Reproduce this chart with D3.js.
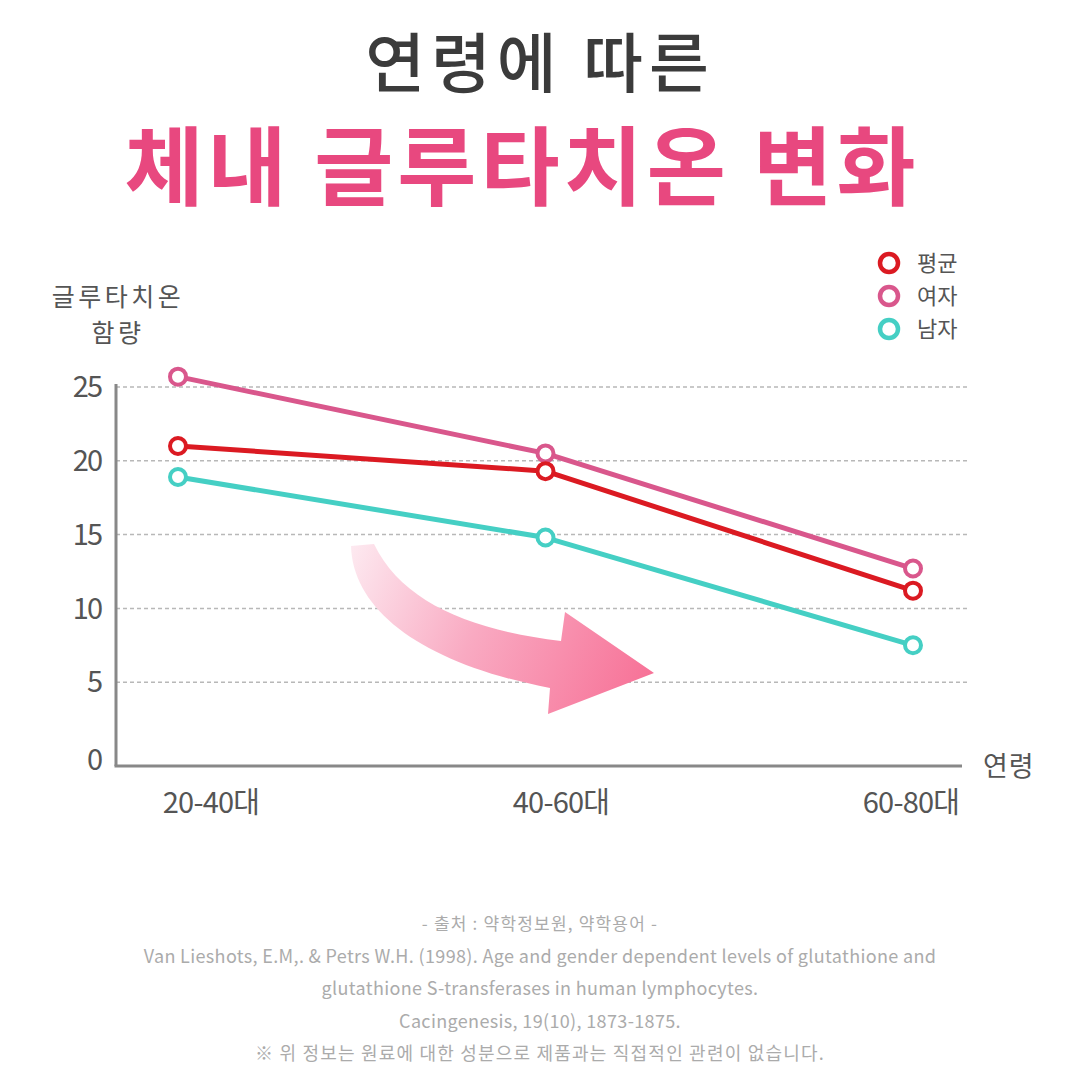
<!DOCTYPE html>
<html><head><meta charset="utf-8">
<script src="https://cdn.jsdelivr.net/npm/d3@7"></script>
<style>
html,body{margin:0;padding:0;background:#fff;}
svg{display:block;font-family:"Noto Sans CJK KR","Noto Sans",sans-serif;}
</style></head>
<body>
<svg id="chart" width="1080" height="1080"></svg>
<script>
// ---- data ----
const categories = ["20-40대", "40-60대", "60-80대"];
const seriesNames = ["평균", "여자", "남자"];
const avgValues = [21.0, 19.3, 11.2];
const femaleValues = [25.7, 20.5, 12.7];
const maleValues = [18.9, 14.8, 7.5];
const yTicks = [0, 5, 10, 15, 20, 25];
const seriesColors = ["#db1a22", "#d9578c", "#45cfc4"];

const titleLine1 = "연령에 따른";
const titleLine2 = "체내 글루타치온 변화";
const yTitle = ["글루타치온", "함량"];
const xTitle = "연령";
const footer = [
  "- 출처 : 약학정보원, 약학용어 -",
  "Van Lieshots, E.M,. & Petrs W.H. (1998). Age and gender dependent levels of glutathione and",
  "glutathione S-transferases in human lymphocytes.",
  "Cacingenesis, 19(10), 1873-1875.",
  "※ 위 정보는 원료에 대한 성분으로 제품과는 직접적인 관련이 없습니다."
];

const series = [
  {name: seriesNames[1], values: femaleValues, color: seriesColors[1]},
  {name: seriesNames[0], values: avgValues, color: seriesColors[0]},
  {name: seriesNames[2], values: maleValues, color: seriesColors[2]}
];

const svg = d3.select("#chart");

// ---- titles ----
svg.append("text").attr("x", 540).attr("y", 87).attr("text-anchor", "middle")
  .attr("font-size", 65).attr("font-weight", 500).attr("fill", "#3b3b3b")
  .attr("letter-spacing", 6).text(titleLine1);
svg.append("text").attr("x", 522).attr("y", 199).attr("text-anchor", "middle")
  .attr("font-size", 86).attr("font-weight", 700).attr("fill", "#e8487f")
  .attr("letter-spacing", 4).text(titleLine2);

// ---- scales ----
const axisX = 116, axisBottom = 766, axisRight = 962;
const x = d3.scalePoint().domain(categories).range([178, 913]);
const xLabel = d3.scalePoint().domain(categories).range([211, 911]);
const y = d3.scaleLinear().domain([0, 25]).range([756, 387]);

// ---- gridlines ----
const grid = svg.append("g");
grid.selectAll("line").data(yTicks.filter(t => t > 0)).join("line")
  .attr("x1", axisX).attr("x2", 968)
  .attr("y1", d => y(d)).attr("y2", d => y(d))
  .attr("stroke", "#b8b8b8").attr("stroke-width", 1.5).attr("stroke-dasharray", "4,3");

// ---- axes lines ----
svg.append("line").attr("x1", axisX).attr("x2", axisX).attr("y1", 384).attr("y2", axisBottom)
  .attr("stroke", "#888").attr("stroke-width", 3);
svg.append("line").attr("x1", axisX - 1.5).attr("x2", axisRight).attr("y1", axisBottom).attr("y2", axisBottom)
  .attr("stroke", "#888").attr("stroke-width", 3);

// y tick labels
svg.append("g").selectAll("text").data(yTicks).join("text")
  .attr("x", 101).attr("y", d => y(d) + (d === 0 ? 4 : 0)).attr("dy", "0.35em")
  .attr("text-anchor", "end").attr("font-size", 29).attr("fill", "#555")
  .attr("letter-spacing", -2).text(d => d);

// x tick labels
svg.append("g").selectAll("text").data(categories).join("text")
  .attr("x", d => xLabel(d)).attr("y", 803).attr("dy", "0.35em")
  .attr("text-anchor", "middle").attr("font-size", 29).attr("fill", "#555")
  .attr("letter-spacing", -0.8).text(d => d);

// axis titles
svg.append("g").selectAll("text").data(yTitle).join("text")
  .attr("x", 118).attr("y", (d, i) => 297 + i * 36).attr("dy", "0.35em")
  .attr("text-anchor", "middle").attr("font-size", 25).attr("fill", "#555")
  .attr("letter-spacing", 3.5).text(d => d);
svg.append("text").attr("x", 983).attr("y", 767).attr("dy", "0.35em")
  .attr("font-size", 27).attr("fill", "#555").attr("letter-spacing", 1).text(xTitle);

// ---- decorative arrow ----
const defs = svg.append("defs");
const grad = defs.append("linearGradient").attr("id", "arrowGrad")
  .attr("gradientUnits", "userSpaceOnUse")
  .attr("x1", 352).attr("y1", 545).attr("x2", 650).attr("y2", 672);
grad.append("stop").attr("offset", 0).attr("stop-color", "#fde9f0");
grad.append("stop").attr("offset", 0.45).attr("stop-color", "#f9aac2");
grad.append("stop").attr("offset", 1).attr("stop-color", "#f77398");
svg.append("path")
  .attr("d", "M351,546 C353,612 425,664 550,688 L548,714 L654,673 L565,612 L561,641 C470,630 402,602 374,544 Z")
  .attr("fill", "url(#arrowGrad)");

// ---- lines & markers ----
const line = d3.line().x((d, i) => x(categories[i])).y(d => y(d));
const sg = svg.append("g").selectAll("g").data(series).join("g");
sg.append("path").attr("d", d => line(d.values)).attr("fill", "none")
  .attr("stroke", d => d.color).attr("stroke-width", 5).attr("stroke-linejoin", "round");
sg.each(function(s) {
  d3.select(this).selectAll("circle").data(s.values).join("circle")
    .attr("cx", (d, i) => x(categories[i])).attr("cy", d => y(d)).attr("r", 8)
    .attr("fill", "#fff").attr("stroke", s.color).attr("stroke-width", 4);
});

// ---- legend ----
const lg = svg.append("g").selectAll("g").data(seriesNames).join("g")
  .attr("transform", (d, i) => `translate(889,${263 + i * 33})`);
lg.append("circle").attr("r", 9).attr("fill", "#fff")
  .attr("stroke", (d, i) => seriesColors[i]).attr("stroke-width", 4.5);
lg.append("text").attr("x", 28).attr("dy", "0.35em").attr("font-size", 22)
  .attr("fill", "#555").text(d => d);

// ---- footer ----
svg.append("g").selectAll("text").data(footer).join("text")
  .attr("x", 540).attr("y", (d, i) => 924 + i * 32.5).attr("dy", "0.35em")
  .attr("text-anchor", "middle")
  .attr("font-size", (d, i) => i === 0 ? 17 : 18)
  .attr("letter-spacing", (d, i) => i === 0 || i === 4 ? 1.2 : 0.35)
  .attr("fill", "#ababab").text(d => d);
</script>
</body></html>
